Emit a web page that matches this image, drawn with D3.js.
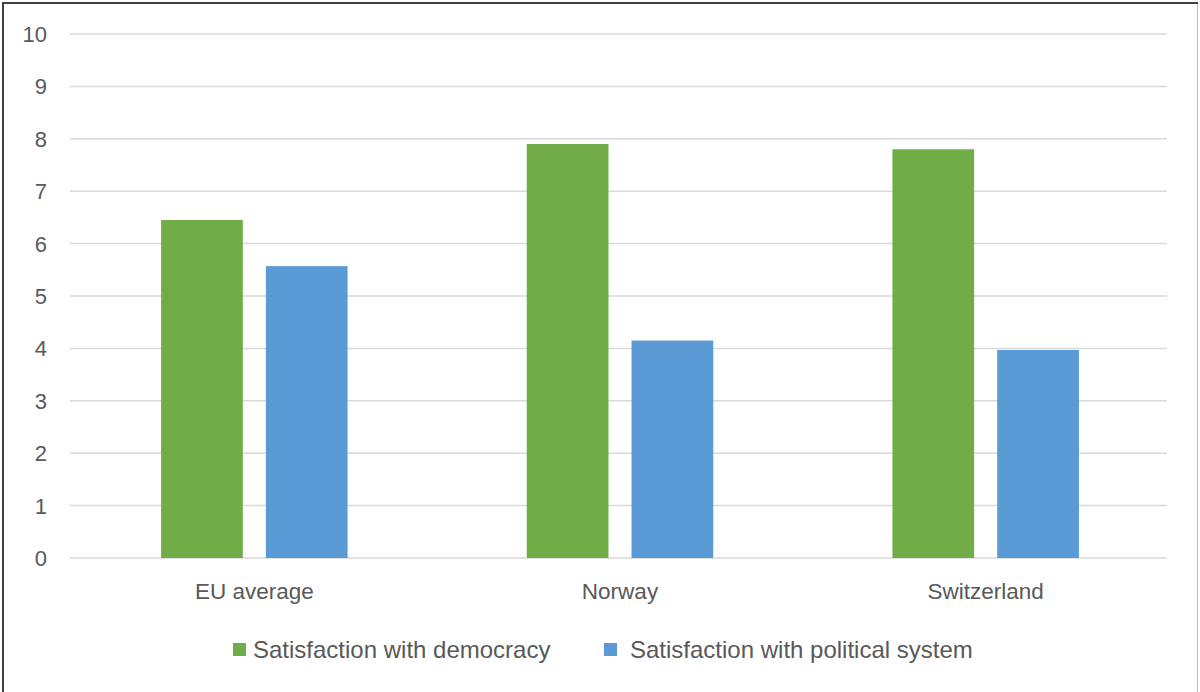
<!DOCTYPE html>
<html>
<head>
<meta charset="utf-8">
<script src="https://cdn.jsdelivr.net/npm/d3@7"></script>
<style>
  body { margin: 0; background: #fff; }
  svg { display: block; font-family: "Liberation Sans", Arial, sans-serif; }
</style>
</head>
<body>
<svg width="1200" height="692"></svg>
<script>
// **** Data ****
var categories = ["EU average", "Norway", "Switzerland"];
var seriesNames = ["Satisfaction with democracy", "Satisfaction with political system"];
var democracy = [6.45, 7.9, 7.8];
var politicalSystem = [5.57, 4.15, 3.97];
var yTicks = [0, 1, 2, 3, 4, 5, 6, 7, 8, 9, 10];

var colors = ["#70AD47", "#5B9BD5"];

var rows = categories.map((c, i) => ({ cat: c, values: [democracy[i], politicalSystem[i]] }));

// **** Scales ****
var x0 = d3.scaleBand().domain(categories).range([71.5, 1168.5]).paddingInner(0).paddingOuter(0);
var groupPad = 0.245;
var x1 = d3.scaleBand().domain([0, 1])
    .range([x0.bandwidth() * groupPad, x0.bandwidth() * (1 - groupPad)])
    .paddingInner(0.22).paddingOuter(0);
var y = d3.scaleLinear().domain([0, 10]).range([558, 34]);

var svg = d3.select("svg");

// chart border
svg.append("rect")
    .attr("x", 2.5).attr("y", 2.5)
    .attr("width", 1195).attr("height", 700)
    .attr("fill", "white")
    .attr("stroke", "#bfbfbf").attr("stroke-width", 1);
svg.append("line").attr("x1", 2).attr("x2", 1198).attr("y1", 3).attr("y2", 3)
    .attr("stroke", "#3f3f3f").attr("stroke-width", 2);
svg.append("line").attr("x1", 3).attr("x2", 3).attr("y1", 2).attr("y2", 692)
    .attr("stroke", "#3f3f3f").attr("stroke-width", 2);

// gridlines
svg.append("g").attr("class", "grid")
    .selectAll("line").data(yTicks).enter().append("line")
    .attr("x1", 70).attr("x2", 1167)
    .attr("y1", d => y(d)).attr("y2", d => y(d))
    .attr("stroke", "#d9d9d9").attr("stroke-width", 1.5);

// y axis labels
svg.append("g").attr("class", "y axis")
    .selectAll("text").data(yTicks).enter().append("text")
    .attr("x", 47).attr("y", d => y(d)).attr("dy", "0.36em")
    .attr("text-anchor", "end")
    .style("font-size", "22px").style("fill", "#595959")
    .text(d => d);

// bars
var group = svg.selectAll(".cat").data(rows).enter().append("g")
    .attr("class", "cat")
    .attr("transform", d => `translate(${x0(d.cat)},0)`);

group.selectAll("rect").data(d => d.values).enter().append("rect")
    .attr("x", (d, i) => x1(i))
    .attr("width", x1.bandwidth())
    .attr("y", d => y(d))
    .attr("height", d => y(0) - y(d))
    .attr("fill", (d, i) => colors[i]);

// category labels
svg.append("g").attr("class", "x axis")
    .selectAll("text").data(categories).enter().append("text")
    .attr("x", d => x0(d) + x0.bandwidth() / 2)
    .attr("y", 599)
    .attr("text-anchor", "middle")
    .style("font-size", "22.5px").style("fill", "#595959")
    .text(d => d);

// legend
var legendX = [233, 604];
var legend = svg.append("g").attr("class", "legend")
    .selectAll("g").data(seriesNames).enter().append("g")
    .attr("transform", (d, i) => `translate(${legendX[i]},643)`);

legend.append("rect")
    .attr("width", 13).attr("height", 13)
    .attr("fill", (d, i) => colors[i]);

legend.append("text")
    .attr("x", (d, i) => i === 0 ? 20 : 26)
    .attr("y", 15)
    .style("font-size", "24px").style("fill", "#595959")
    .text(d => d);
</script>
</body>
</html>
